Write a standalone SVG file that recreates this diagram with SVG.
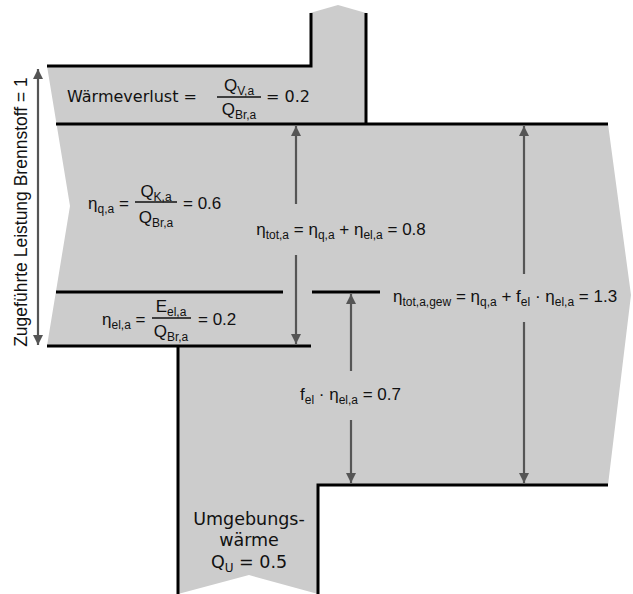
<svg xmlns="http://www.w3.org/2000/svg" width="633" height="594" viewBox="0 0 633 594">
<style>
.bl{stroke:#000;stroke-width:3;fill:none}
.ar{stroke:#555;stroke-width:2.2;fill:none}
.f{font-family:"Liberation Sans",Arial,sans-serif;font-size:17px;fill:#111}
.v{font-family:"DejaVu Sans",Verdana,sans-serif;font-size:16px;fill:#111}
.u{font-family:"DejaVu Sans",Verdana,sans-serif;font-size:17.5px;fill:#111}
.s{font-size:12px}
</style>
<defs>
<marker id="ah" viewBox="0 0 10 10" refX="10" refY="5" markerWidth="10" markerHeight="10" markerUnits="userSpaceOnUse" orient="auto-start-reverse">
<path d="M0,0 L10,5 L0,10 Z" fill="#555"/>
</marker>
</defs>
<g id="flow">
<path d="M47,66 L310,66 L310,13 L338,5 L366,13 L366,124 L608,124 L631,295 L608,485 L318,485 L318,594 L249,575 L178,594 L178,346 L47,346 L70,206 Z" fill="#cccccc"/>
<path class="bl" d="M47,66 L311,66 L311,13"/>
<path class="bl" d="M366,13 L366,124"/>
<path class="bl" d="M56,124 L608,124"/>
<path class="bl" d="M56,292 L283,292 M312,292 L380,292"/>
<path class="bl" d="M47,346 L311,346"/>
<path class="bl" d="M178,346 L178,594"/>
<path class="bl" d="M318,594 L318,485 L608,485"/>
</g>
<g id="connectors">
<line class="ar" x1="38" y1="69" x2="38" y2="345" marker-start="url(#ah)" marker-end="url(#ah)"/>
<line class="ar" x1="296" y1="204" x2="296" y2="126" marker-end="url(#ah)"/>
<line class="ar" x1="296" y1="255" x2="296" y2="344" marker-end="url(#ah)"/>
<line class="ar" x1="524" y1="274" x2="524" y2="126" marker-end="url(#ah)"/>
<line class="ar" x1="524" y1="322" x2="524" y2="483" marker-end="url(#ah)"/>
<line class="ar" x1="351" y1="371" x2="351" y2="294" marker-end="url(#ah)"/>
<line class="ar" x1="351" y1="420" x2="351" y2="483" marker-end="url(#ah)"/>
</g>
<g id="waermeverlust">
<text class="v" x="67" y="102">Wärmeverlust =</text>
<text class="f" x="239" y="91" text-anchor="middle">Q<tspan class="s" dy="4">V,a</tspan></text>
<line x1="217" y1="97" x2="261" y2="97" stroke="#111" stroke-width="1.5"/>
<text class="f" x="239" y="115" text-anchor="middle">Q<tspan class="s" dy="4">Br,a</tspan></text>
<text class="v" x="266" y="102">= 0.2</text>
</g>
<g id="eta-q">
<text class="f" x="88" y="209">η<tspan class="s" dy="4">q,a</tspan><tspan dy="-4"> =</tspan></text>
<text class="f" x="156" y="197" text-anchor="middle">Q<tspan class="s" dy="4">K,a</tspan></text>
<line x1="135" y1="202" x2="177" y2="202" stroke="#111" stroke-width="1.5"/>
<text class="f" x="156" y="223" text-anchor="middle">Q<tspan class="s" dy="4">Br,a</tspan></text>
<text class="f" x="183" y="209">= 0.6</text>
</g>
<g id="eta-el">
<text class="f" x="102" y="325">η<tspan class="s" dy="4">el,a</tspan><tspan dy="-4"> =</tspan></text>
<text class="f" x="171" y="312" text-anchor="middle">E<tspan class="s" dy="4">el,a</tspan></text>
<line x1="152" y1="318" x2="191" y2="318" stroke="#111" stroke-width="1.5"/>
<text class="f" x="171" y="337" text-anchor="middle">Q<tspan class="s" dy="4">Br,a</tspan></text>
<text class="f" x="198" y="325">= 0.2</text>
</g>
<g id="eta-tot">
<text class="f" x="341" y="235" text-anchor="middle">η<tspan class="s" dy="4">tot,a</tspan><tspan dy="-4"> = η</tspan><tspan class="s" dy="4">q,a</tspan><tspan dy="-4"> + η</tspan><tspan class="s" dy="4">el,a</tspan><tspan dy="-4"> = 0.8</tspan></text>
</g>
<g id="eta-tot-gew">
<text class="f" x="393" y="302">η<tspan class="s" dy="4">tot,a,gew</tspan><tspan dy="-4"> = η</tspan><tspan class="s" dy="4">q,a</tspan><tspan dy="-4"> + f</tspan><tspan class="s" dy="4">el</tspan><tspan dy="-4"> · η</tspan><tspan class="s" dy="4">el,a</tspan><tspan dy="-4"> = 1.3</tspan></text>
</g>
<g id="fel">
<text class="f" x="300" y="400">f<tspan class="s" dy="4">el</tspan><tspan dy="-4"> · η</tspan><tspan class="s" dy="4">el,a</tspan><tspan dy="-4"> = 0.7</tspan></text>
</g>
<g id="zugefuehrt">
<text class="f" transform="translate(27,212) rotate(-90)" text-anchor="middle" style="font-size:17.5px">Zugeführte Leistung Brennstoff = 1</text>
</g>
<g id="umgebung">
<text class="u" x="249" y="525" text-anchor="middle">Umgebungs-</text>
<text class="u" x="249" y="546" text-anchor="middle">wärme</text>
<text class="u" x="249" y="568" text-anchor="middle">Q<tspan style="font-size:12px" dy="4">U</tspan><tspan dy="-4"> = 0.5</tspan></text>
</g>
</svg>
